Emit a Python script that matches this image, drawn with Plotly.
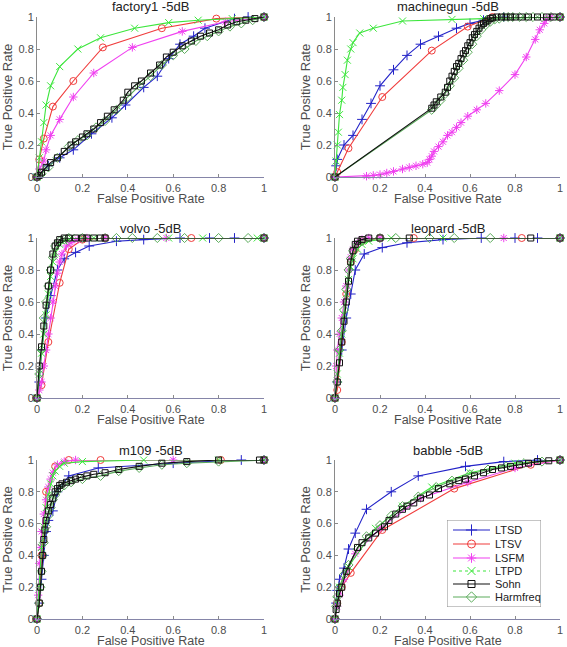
import plotly.graph_objects as go

# ---------------- data ----------------
panel_titles = ["factory1 -5dB", "machinegun -5dB", "volvo -5dB", "leopard -5dB", "m109 -5dB", "babble -5dB"]
series_names = ["LTSD", "LTSV", "LSFM", "LTPD", "Sohn", "Harmfreq"]
tick_vals = [0, 0.2, 0.4, 0.6, 0.8, 1]
tick_text = ["0", "0.2", "0.4", "0.6", "0.8", "1"]

# factory1
factory1_ltsd_x = [0, 0.05, 0.1, 0.16, 0.24, 0.33, 0.39, 0.47, 0.53, 0.58, 0.63, 0.69, 0.74, 0.87, 0.93, 1]
factory1_ltsd_y = [0, 0.07, 0.12, 0.17, 0.27, 0.37, 0.45, 0.56, 0.63, 0.74, 0.83, 0.88, 0.93, 0.99, 1, 1]
factory1_ltsv_x = [0, 0.01, 0.03, 0.07, 0.16, 0.29, 0.55, 0.79, 1]
factory1_ltsv_y = [0, 0.11, 0.24, 0.44, 0.6, 0.81, 0.93, 0.99, 1]
factory1_lsfm_x = [0, 0.01, 0.03, 0.04, 0.06, 0.1, 0.16, 0.25, 0.42, 0.64, 0.83, 1]
factory1_lsfm_y = [0, 0.05, 0.1, 0.17, 0.26, 0.36, 0.5, 0.65, 0.81, 0.91, 0.97, 1]
factory1_ltpd_x = [0, 0.01, 0.02, 0.03, 0.04, 0.06, 0.1, 0.18, 0.28, 0.43, 0.58, 0.71, 0.86, 1]
factory1_ltpd_y = [0, 0.12, 0.22, 0.34, 0.45, 0.57, 0.69, 0.8, 0.87, 0.93, 0.965, 0.98, 0.99, 1]
factory1_sohn_x = [0, 0.01, 0.02, 0.04, 0.06, 0.09, 0.12, 0.15, 0.17, 0.2, 0.22, 0.25, 0.28, 0.31, 0.34, 0.38, 0.4, 0.43, 0.46, 0.5, 0.54, 0.57, 0.6, 0.64, 0.68, 0.72, 0.76, 0.8, 0.84, 0.88, 0.92, 0.96, 1]
factory1_sohn_y = [0, 0.01, 0.03, 0.06, 0.09, 0.12, 0.16, 0.2, 0.22, 0.25, 0.27, 0.3, 0.34, 0.38, 0.42, 0.48, 0.53, 0.57, 0.6, 0.65, 0.7, 0.75, 0.78, 0.82, 0.85, 0.88, 0.9, 0.92, 0.95, 0.97, 0.98, 0.99, 1]
factory1_harm_x = [0, 0.01, 0.02, 0.05, 0.09, 0.14, 0.18, 0.22, 0.26, 0.3, 0.35, 0.4, 0.45, 0.5, 0.55, 0.6, 0.65, 0.7, 0.75, 0.8, 0.85, 0.9, 0.95, 1]
factory1_harm_y = [0, 0.01, 0.02, 0.06, 0.12, 0.19, 0.23, 0.26, 0.31, 0.35, 0.42, 0.5, 0.57, 0.63, 0.7, 0.76, 0.8, 0.85, 0.88, 0.91, 0.94, 0.96, 0.98, 1]

# machinegun
machinegun_ltsd_x = [0, 0.005, 0.01, 0.04, 0.08, 0.12, 0.16, 0.2, 0.26, 0.32, 0.38, 0.46, 0.54, 0.6, 0.66, 0.75, 1]
machinegun_ltsd_y = [0, 0.07, 0.11, 0.2, 0.26, 0.36, 0.46, 0.57, 0.67, 0.76, 0.83, 0.88, 0.93, 0.96, 0.98, 1, 1]
machinegun_ltsv_x = [0, 0.01, 0.06, 0.21, 0.43, 0.59, 0.7, 1]
machinegun_ltsv_y = [0, 0.03, 0.18, 0.5, 0.79, 0.94, 1, 1]
machinegun_lsfm_x = [0, 0.14, 0.17, 0.2, 0.23, 0.26, 0.3, 0.33, 0.36, 0.39, 0.41, 0.42, 0.43, 0.44, 0.46, 0.48, 0.5, 0.52, 0.54, 0.56, 0.59, 0.63, 0.67, 0.73, 0.8, 0.85, 0.89, 0.91, 0.93, 0.94, 0.96, 1]
machinegun_lsfm_y = [0, 0.005, 0.01, 0.015, 0.025, 0.035, 0.05, 0.06, 0.07, 0.08, 0.09, 0.11, 0.13, 0.16, 0.19, 0.22, 0.26, 0.28, 0.31, 0.34, 0.38, 0.42, 0.46, 0.54, 0.64, 0.75, 0.86, 0.92, 0.96, 0.99, 1, 1]
machinegun_ltpd_x = [0, 0.005, 0.01, 0.015, 0.02, 0.03, 0.035, 0.045, 0.055, 0.07, 0.08, 0.11, 0.17, 0.3, 0.52, 0.66, 1]
machinegun_ltpd_y = [0, 0.1, 0.2, 0.28, 0.39, 0.48, 0.56, 0.64, 0.73, 0.8, 0.84, 0.9, 0.93, 0.975, 0.985, 0.99, 1]
machinegun_sohn_x = [0, 0.43, 0.44, 0.45, 0.47, 0.49, 0.5, 0.51, 0.52, 0.53, 0.54, 0.55, 0.56, 0.57, 0.58, 0.59, 0.6, 0.61, 0.62, 0.63, 0.64, 0.65, 0.66, 0.67, 0.68, 0.69, 0.7, 0.72, 0.74, 0.76, 0.78, 0.8, 0.83, 0.86, 0.9, 0.94, 0.97, 1]
machinegun_sohn_y = [0, 0.43, 0.45, 0.47, 0.5, 0.53, 0.56, 0.6, 0.63, 0.66, 0.69, 0.71, 0.74, 0.77, 0.79, 0.82, 0.84, 0.87, 0.89, 0.91, 0.93, 0.95, 0.96, 0.97, 0.98, 0.99, 0.995, 1, 1, 1, 1, 1, 1, 1, 1, 1, 1, 1]
machinegun_harm_x = [0, 0.43, 0.45, 0.47, 0.49, 0.51, 0.53, 0.55, 0.57, 0.59, 0.61, 0.63, 0.65, 0.67, 0.69, 0.71, 0.73, 0.75, 0.77, 0.79, 0.82, 0.85, 0.88, 0.92, 0.96, 1]
machinegun_harm_y = [0, 0.42, 0.45, 0.48, 0.52, 0.57, 0.62, 0.68, 0.73, 0.78, 0.83, 0.88, 0.92, 0.95, 0.97, 0.985, 0.99, 1, 1, 1, 1, 1, 1, 1, 1, 1]

# volvo
volvo_ltsd_x = [0, 0.01, 0.02, 0.04, 0.06, 0.09, 0.12, 0.17, 0.23, 0.35, 0.47, 0.63, 0.76, 0.87, 1]
volvo_ltsd_y = [0, 0.1, 0.3, 0.5, 0.64, 0.8, 0.87, 0.91, 0.95, 0.98, 0.99, 1, 1, 1, 1]
volvo_ltsv_x = [0, 0.02, 0.05, 0.1, 0.14, 0.2, 0.3, 0.68, 1]
volvo_ltsv_y = [0, 0.08, 0.35, 0.72, 0.93, 0.99, 1, 1, 1]
volvo_lsfm_x = [0, 0.01, 0.02, 0.03, 0.04, 0.05, 0.06, 0.07, 0.08, 0.09, 0.1, 0.11, 0.13, 0.15, 0.18, 0.22, 0.3, 0.57, 1]
volvo_lsfm_y = [0, 0.05, 0.1, 0.2, 0.3, 0.4, 0.5, 0.6, 0.7, 0.78, 0.85, 0.9, 0.95, 0.97, 0.99, 1, 1, 1, 1]
volvo_ltpd_x = [0, 0.01, 0.02, 0.03, 0.04, 0.05, 0.06, 0.07, 0.08, 0.1, 0.12, 0.15, 0.2, 0.25, 0.58, 0.73, 0.97, 1]
volvo_ltpd_y = [0, 0.15, 0.28, 0.4, 0.52, 0.65, 0.76, 0.85, 0.91, 0.96, 0.98, 1, 1, 1, 1, 1, 1, 1]
volvo_sohn_x = [0, 0.01, 0.02, 0.03, 0.04, 0.05, 0.06, 0.07, 0.08, 0.09, 0.1, 0.12, 0.14, 0.17, 0.2, 0.22, 0.25, 0.28, 0.3, 1]
volvo_sohn_y = [0, 0.2, 0.32, 0.45, 0.58, 0.7, 0.8, 0.9, 0.95, 0.97, 0.99, 1, 1, 1, 1, 1, 1, 1, 1, 1]
volvo_harm_x = [0, 0.01, 0.02, 0.03, 0.04, 0.05, 0.06, 0.07, 0.08, 0.1, 0.12, 0.14, 0.2, 0.3, 0.35, 0.42, 0.53, 0.65, 0.8, 0.93, 1]
volvo_harm_y = [0, 0.15, 0.3, 0.5, 0.6, 0.7, 0.8, 0.88, 0.95, 0.98, 0.99, 1, 1, 1, 1, 1, 1, 1, 1, 1, 1]

# leopard
leopard_ltsd_x = [0, 0.01, 0.03, 0.05, 0.07, 0.09, 0.13, 0.21, 0.32, 0.48, 0.65, 0.8, 0.9, 1]
leopard_ltsd_y = [0, 0.1, 0.3, 0.5, 0.65, 0.8, 0.9, 0.94, 0.97, 0.99, 1, 1, 1, 1]
leopard_ltsv_x = [0, 0.01, 0.03, 0.05, 0.07, 0.09, 0.12, 0.2, 0.35, 0.83, 1]
leopard_ltsv_y = [0, 0.05, 0.35, 0.65, 0.85, 0.93, 0.98, 1, 1, 1, 1]
leopard_lsfm_x = [0, 0.005, 0.01, 0.02, 0.03, 0.04, 0.05, 0.06, 0.07, 0.08, 0.1, 0.12, 0.15, 0.2, 0.75, 1]
leopard_lsfm_y = [0, 0.2, 0.3, 0.4, 0.5, 0.6, 0.7, 0.8, 0.88, 0.93, 0.97, 0.99, 1, 1, 1, 1]
leopard_ltpd_x = [0, 0.01, 0.02, 0.03, 0.04, 0.05, 0.06, 0.07, 0.08, 0.1, 0.12, 0.15, 0.25, 0.48, 1]
leopard_ltpd_y = [0, 0.15, 0.28, 0.4, 0.52, 0.65, 0.74, 0.82, 0.87, 0.93, 0.96, 0.98, 1, 1, 1]
leopard_sohn_x = [0, 0.01, 0.02, 0.03, 0.04, 0.05, 0.06, 0.07, 0.08, 0.09, 0.1, 0.12, 0.15, 0.2, 0.33, 0.87, 1]
leopard_sohn_y = [0, 0.1, 0.22, 0.35, 0.48, 0.6, 0.73, 0.85, 0.92, 0.96, 0.98, 0.99, 1, 1, 1, 1, 1]
leopard_harm_x = [0, 0.01, 0.02, 0.03, 0.04, 0.05, 0.06, 0.07, 0.08, 0.1, 0.12, 0.2, 0.27, 0.42, 0.53, 0.69, 1]
leopard_harm_y = [0, 0.1, 0.3, 0.42, 0.55, 0.68, 0.8, 0.87, 0.92, 0.96, 0.98, 1, 1, 1, 1, 1, 1]

# m109
m109_ltsd_x = [0, 0.01, 0.02, 0.03, 0.04, 0.05, 0.07, 0.09, 0.14, 0.27, 0.6, 0.9, 1]
m109_ltsd_y = [0, 0.1, 0.25, 0.4, 0.55, 0.62, 0.68, 0.8, 0.9, 0.95, 0.98, 1, 1]
m109_ltsv_x = [0, 0.01, 0.02, 0.04, 0.08, 0.14, 0.28, 0.81, 1]
m109_ltsv_y = [0, 0.1, 0.4, 0.8, 0.96, 1, 1, 1, 1]
m109_lsfm_x = [0, 0.005, 0.01, 0.015, 0.02, 0.03, 0.04, 0.05, 0.06, 0.07, 0.09, 0.12, 0.17, 0.6, 1]
m109_lsfm_y = [0, 0.15, 0.35, 0.45, 0.55, 0.66, 0.75, 0.83, 0.88, 0.92, 0.97, 0.99, 1, 1, 1]
m109_ltpd_x = [0, 0.01, 0.02, 0.03, 0.04, 0.05, 0.06, 0.07, 0.08, 0.1, 0.12, 0.2, 0.47, 0.8, 1]
m109_ltpd_y = [0, 0.2, 0.45, 0.58, 0.7, 0.78, 0.85, 0.9, 0.93, 0.96, 0.98, 0.99, 1, 1, 1]
m109_sohn_x = [0, 0.01, 0.015, 0.02, 0.025, 0.03, 0.035, 0.04, 0.05, 0.06, 0.07, 0.08, 0.09, 0.1, 0.11, 0.13, 0.15, 0.17, 0.19, 0.22, 0.25, 0.3, 0.36, 0.45, 0.55, 0.66, 0.8, 0.98, 1]
m109_sohn_y = [0, 0.1, 0.2, 0.3, 0.4, 0.5, 0.56, 0.62, 0.68, 0.72, 0.76, 0.8, 0.82, 0.84, 0.85, 0.86, 0.87, 0.88, 0.89, 0.9, 0.91, 0.92, 0.94, 0.96, 0.98, 0.99, 1, 1, 1]
m109_harm_x = [0, 0.01, 0.015, 0.02, 0.025, 0.03, 0.04, 0.05, 0.06, 0.07, 0.08, 0.1, 0.12, 0.15, 0.2, 0.28, 0.36, 0.45, 0.55, 0.66, 0.8, 1]
m109_harm_y = [0, 0.1, 0.2, 0.3, 0.4, 0.48, 0.58, 0.65, 0.7, 0.75, 0.78, 0.82, 0.84, 0.86, 0.88, 0.9, 0.93, 0.95, 0.97, 0.98, 0.99, 1]

# babble
babble_ltsd_x = [0, 0.005, 0.01, 0.02, 0.04, 0.06, 0.09, 0.14, 0.25, 0.37, 0.58, 0.75, 0.9, 1]
babble_ltsd_y = [0, 0.1, 0.18, 0.25, 0.32, 0.44, 0.54, 0.69, 0.8, 0.9, 0.96, 0.99, 1, 1]
babble_ltsv_x = [0, 0.01, 0.03, 0.07, 0.21, 0.53, 0.87, 1]
babble_ltsv_y = [0, 0.1, 0.2, 0.29, 0.56, 0.82, 0.97, 1]
babble_lsfm_x = [0, 0.01, 0.02, 0.04, 0.09, 0.2, 0.38, 0.59, 0.8, 1]
babble_lsfm_y = [0, 0.08, 0.15, 0.25, 0.41, 0.57, 0.76, 0.86, 0.95, 1]
babble_ltpd_x = [0, 0.01, 0.02, 0.06, 0.18, 0.3, 0.43, 0.6, 0.8, 1]
babble_ltpd_y = [0, 0.12, 0.2, 0.33, 0.57, 0.71, 0.83, 0.92, 0.98, 1]
babble_sohn_x = [0, 0.005, 0.01, 0.02, 0.03, 0.05, 0.1, 0.12, 0.15, 0.18, 0.22, 0.24, 0.27, 0.3, 0.32, 0.35, 0.38, 0.42, 0.46, 0.51, 0.55, 0.58, 0.62, 0.66, 0.7, 0.74, 0.78, 0.82, 0.86, 0.9, 0.95, 1]
babble_sohn_y = [0, 0.06, 0.1, 0.16, 0.2, 0.3, 0.45, 0.48, 0.51, 0.54, 0.58, 0.62, 0.66, 0.69, 0.71, 0.73, 0.76, 0.78, 0.82, 0.85, 0.87, 0.88, 0.9, 0.92, 0.94, 0.95, 0.96, 0.97, 0.98, 0.99, 0.995, 1]
babble_harm_x = [0, 0.005, 0.01, 0.02, 0.04, 0.06, 0.1, 0.14, 0.2, 0.25, 0.3, 0.37, 0.45, 0.52, 0.6, 0.68, 0.76, 0.84, 0.92, 1]
babble_harm_y = [0, 0.08, 0.14, 0.2, 0.28, 0.34, 0.44, 0.52, 0.59, 0.65, 0.71, 0.77, 0.83, 0.87, 0.91, 0.94, 0.96, 0.98, 0.99, 1]

panels = [
    [(factory1_ltsd_x, factory1_ltsd_y), (factory1_ltsv_x, factory1_ltsv_y), (factory1_lsfm_x, factory1_lsfm_y),
     (factory1_ltpd_x, factory1_ltpd_y), (factory1_sohn_x, factory1_sohn_y), (factory1_harm_x, factory1_harm_y)],
    [(machinegun_ltsd_x, machinegun_ltsd_y), (machinegun_ltsv_x, machinegun_ltsv_y), (machinegun_lsfm_x, machinegun_lsfm_y),
     (machinegun_ltpd_x, machinegun_ltpd_y), (machinegun_sohn_x, machinegun_sohn_y), (machinegun_harm_x, machinegun_harm_y)],
    [(volvo_ltsd_x, volvo_ltsd_y), (volvo_ltsv_x, volvo_ltsv_y), (volvo_lsfm_x, volvo_lsfm_y),
     (volvo_ltpd_x, volvo_ltpd_y), (volvo_sohn_x, volvo_sohn_y), (volvo_harm_x, volvo_harm_y)],
    [(leopard_ltsd_x, leopard_ltsd_y), (leopard_ltsv_x, leopard_ltsv_y), (leopard_lsfm_x, leopard_lsfm_y),
     (leopard_ltpd_x, leopard_ltpd_y), (leopard_sohn_x, leopard_sohn_y), (leopard_harm_x, leopard_harm_y)],
    [(m109_ltsd_x, m109_ltsd_y), (m109_ltsv_x, m109_ltsv_y), (m109_lsfm_x, m109_lsfm_y),
     (m109_ltpd_x, m109_ltpd_y), (m109_sohn_x, m109_sohn_y), (m109_harm_x, m109_harm_y)],
    [(babble_ltsd_x, babble_ltsd_y), (babble_ltsv_x, babble_ltsv_y), (babble_lsfm_x, babble_lsfm_y),
     (babble_ltpd_x, babble_ltpd_y), (babble_sohn_x, babble_sohn_y), (babble_harm_x, babble_harm_y)],
]

# ---------------- styles ----------------
W, H = 567, 647
colors = ["#2323c8", "#f03c3c", "#f040f0", "#3ce63c", "#111111", "#5cac5c"]
symbols = ["cross-thin-open", "circle-open", "asterisk-open", "x-thin-open", "square-open", "diamond-open"]
sizes = [7, 7, 7, 7, 6, 7]
legend_dashes = ["solid", "solid", "solid", "dot", "solid", "solid"]
draw_order = [0, 1, 2, 3, 5, 4]

col_px = [(37, 264), (335, 560)]
row_px = [(17, 177), (238, 398), (460, 619)]
FONT = "Liberation Sans, Arial, sans-serif"
AX_COL = "#4d4d4d"

fig = go.Figure()
for p in range(6):
    r, c = divmod(p, 2)
    idx = "" if p == 0 else str(p + 1)
    for s in draw_order:
        xs, ys = panels[p][s]
        fig.add_trace(go.Scatter(
            x=xs, y=ys, mode="lines+markers", name=series_names[s],
            line=dict(color=colors[s], width=1.1),
            marker=dict(symbol=symbols[s], size=sizes[s], color=colors[s],
                        line=dict(color=colors[s], width=1)),
            xaxis="x" + idx, yaxis="y" + idx, cliponaxis=False, showlegend=False,
        ))
    x0, x1 = col_px[c]
    y0, y1 = row_px[r]
    common = dict(range=[0, 1], tickvals=tick_vals, ticktext=tick_text, showgrid=False, zeroline=False,
                  showline=True, linewidth=1, ticks="inside", ticklen=3,
                  tickcolor="#8a8a8a", tickfont=dict(family=FONT, size=11, color=AX_COL),
                  mirror=False, fixedrange=True, automargin=False)
    fig.layout["xaxis" + idx] = dict(common, domain=[x0 / W, x1 / W], anchor="y" + idx,
                                     linecolor="#8585a8", ticklabelstandoff=1)
    fig.layout["yaxis" + idx] = dict(common, domain=[1 - y1 / H, 1 - y0 / H], anchor="x" + idx,
                                     linecolor="#8a8a8a",
                                     title=dict(text="True Positive Rate", standoff=2,
                                                font=dict(family=FONT, size=13, color=AX_COL)))
    fig.add_annotation(text="False Positive Rate", x=(x0 + x1) / 2 / W, y=1 - (y1 + 22) / H,
                       xref="paper", yref="paper", showarrow=False,
                       font=dict(family=FONT, size=12.5, color=AX_COL),
                       xanchor="center", yanchor="middle")
    fig.add_annotation(text=panel_titles[p], x=(x0 + x1) / 2 / W, y=1 - (y0 - 10) / H,
                       xref="paper", yref="paper", showarrow=False,
                       font=dict(family=FONT, size=13, color="#222222"),
                       xanchor="center", yanchor="middle")

# ---------------- legend box (drawn in its own overlay axes, pixel units) ----------------
LX0, LX1, LY0, LY1 = 447, 541, 520, 607
fig.layout["xaxis7"] = dict(domain=[LX0 / W, LX1 / W], range=[LX0, LX1], visible=False,
                            fixedrange=True, anchor="y7", automargin=False)
fig.layout["yaxis7"] = dict(domain=[1 - LY1 / H, 1 - LY0 / H], range=[LY1, LY0], visible=False,
                            fixedrange=True, anchor="x7", automargin=False)
fig.add_trace(go.Scatter(x=[LX0, LX1, LX1, LX0, LX0], y=[LY0, LY0, LY1, LY1, LY0], mode="lines",
                         fill="toself", fillcolor="white", line=dict(color="#8c8c8c", width=1),
                         xaxis="x7", yaxis="y7", showlegend=False, hoverinfo="skip", cliponaxis=False))
item_y = [530, 544, 558, 571, 584, 597]
for s in range(6):
    fig.add_trace(go.Scatter(x=[453, 490], y=[item_y[s], item_y[s]], mode="lines",
                             line=dict(color=colors[s], width=1.1, dash=legend_dashes[s]),
                             xaxis="x7", yaxis="y7", showlegend=False, hoverinfo="skip"))
    fig.add_trace(go.Scatter(x=[471.5], y=[item_y[s]], mode="markers",
                             marker=dict(symbol=symbols[s], size=sizes[s] + 1, color=colors[s],
                                         line=dict(color=colors[s], width=1)),
                             xaxis="x7", yaxis="y7", showlegend=False, hoverinfo="skip"))
    fig.add_annotation(text=series_names[s], x=493, y=item_y[s], xref="x7", yref="y7",
                       showarrow=False, xanchor="left", yanchor="middle",
                       font=dict(family=FONT, size=11, color="#222222"))

fig.update_layout(
    width=W, height=H, margin=dict(l=0, r=0, t=0, b=0, autoexpand=False),
    paper_bgcolor="white", plot_bgcolor="white", showlegend=False,
)
fig.write_html("out.html", config={"displayModeBar": False},
               post_script="document.body.style.margin='0';document.body.style.padding='0';")
